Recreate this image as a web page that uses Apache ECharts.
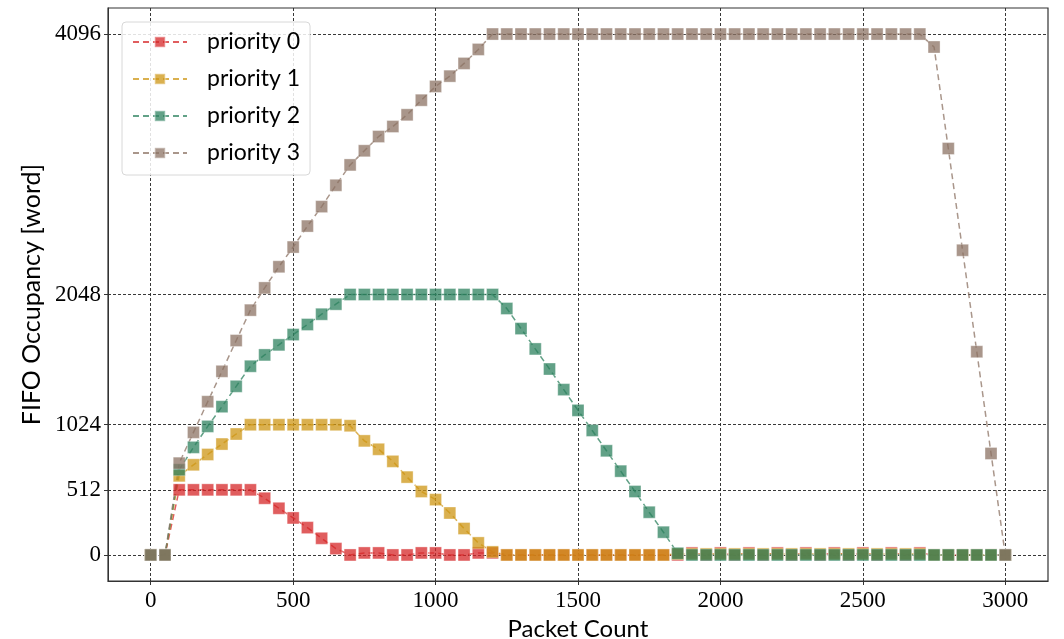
<!DOCTYPE html>
<html>
<head>
<meta charset="utf-8">
<title>FIFO Occupancy</title>
<script src="https://cdn.jsdelivr.net/npm/echarts@6/dist/echarts.min.js"></script>
<style>
    html, body { margin: 0; padding: 0; background: #fff; }
    #main { width: 1064px; height: 639px; }
</style>
</head>
<body>
<div id="main"></div>
<script>
// 横轴：包计数
var packetCount = [0, 50, 100, 150, 200, 250, 300, 350, 400, 450, 500, 550, 600, 650, 700, 750,
    800, 850, 900, 950, 1000, 1050, 1100, 1150, 1200, 1250, 1300, 1350, 1400, 1450, 1500,
    1550, 1600, 1650, 1700, 1750, 1800, 1850, 1900, 1950, 2000, 2050, 2100, 2150, 2200,
    2250, 2300, 2350, 2400, 2450, 2500, 2550, 2600, 2650, 2700, 2750, 2800, 2850, 2900,
    2950, 3000];

var priority0 = [0, 0, 512, 512, 512, 512, 512, 512, 446, 367, 291, 215, 131, 50, 0, 16,
    16, 0, 0, 16, 16, 0, 0, 16, 16, 0, 0, 0, 0, 0, 0,
    0, 0, 0, 0, 0, 0, 0, 16, 0, 16, 0, 16, 0, 16,
    0, 16, 0, 16, 0, 16, 0, 16, 0, 16, 0, 0, 0, 0,
    0, 0];

var priority1 = [0, 0, 622, 709, 790, 872, 951, 1024, 1024, 1024, 1024, 1024, 1024, 1024, 1016, 897,
    831, 736, 612, 499, 435, 330, 208, 95, 24, 0, 0, 0, 0, 0, 0,
    0, 0, 0, 0, 0, 0, 8, 8, 8, 8, 8, 8, 8, 8,
    8, 8, 8, 8, 8, 8, 8, 8, 8, 8, 0, 0, 0, 0,
    0, 0];

var priority2 = [0, 0, 670, 846, 1011, 1166, 1326, 1484, 1573, 1652, 1733, 1812, 1893, 1972, 2048, 2048,
    2048, 2048, 2048, 2048, 2048, 2048, 2048, 2048, 2048, 1938, 1780, 1620, 1462, 1300, 1137,
    979, 819, 659, 499, 336, 179, 13, 0, 0, 0, 0, 0, 0, 0,
    0, 0, 0, 0, 0, 0, 0, 0, 0, 0, 0, 0, 0, 0,
    0, 0];

var priority3 = [0, 0, 722, 964, 1205, 1444, 1686, 1925, 2100, 2266, 2421, 2586, 2739, 2907, 3067, 3178,
    3290, 3369, 3461, 3576, 3684, 3765, 3865, 3975, 4096, 4096, 4096, 4096, 4096, 4096, 4096,
    4096, 4096, 4096, 4096, 4096, 4096, 4096, 4096, 4096, 4096, 4096, 4096, 4096, 4096,
    4096, 4096, 4096, 4096, 4096, 4096, 4096, 4096, 4096, 4096, 3994, 3196, 2396, 1598,
    798, 0];

var seriesNames = ['priority 0', 'priority 1', 'priority 2', 'priority 3'];
var seriesColors = ['#d62728', '#cd9614', '#2d825f', '#8c7364'];

// 刻度
var xTicks = [0, 500, 1000, 1500, 2000, 2500, 3000];
var yTicks = [0, 512, 1024, 2048, 4096];

var myChart = echarts.init(document.getElementById('main'));

function pairs(values) {
    var out = [];
    for (var i = 0; i < packetCount.length; i++) {
        out.push([packetCount[i], values[i]]);
    }
    return out;
}

function makeSeries(name, values, color) {
    return {
        name: name,
        type: 'line',
        data: pairs(values),
        symbol: 'rect',
        symbolSize: 12,
        lineStyle: {
            color: color,
            width: 1.5,
            type: [6, 4],
            opacity: 0.75
        },
        itemStyle: {
            color: color,
            opacity: 0.75,
            borderColor: 'rgba(255,255,255,0.45)',
            borderWidth: 1
        },
        emphasis: {disabled: true}
    };
}

var gridLine = {
    show: true,
    lineStyle: {color: '#222', width: 0.9, type: [3, 2]}
};

// 不要千分位
function plain(v) {
    return String(v);
}

var option = {
    animation: false,
    backgroundColor: '#fff',
    grid: {
        left: 108,
        right: 16,
        top: 8,
        bottom: 58,
        outerBoundsMode: 'none',
        show: true,
        borderColor: '#333',
        borderWidth: 1.2,
        backgroundColor: 'transparent'
    },
    legend: {
        orient: 'vertical',
        left: 122,
        top: 22,
        padding: [7, 10, 9, 10],
        itemWidth: 54,
        itemHeight: 13,
        itemGap: 11,
        backgroundColor: 'rgba(255,255,255,0.85)',
        borderColor: '#d8d8d8',
        borderWidth: 1,
        borderRadius: 4,
        textStyle: {
            fontFamily: 'Lato',
            fontSize: 23,
            color: '#000',
            lineHeight: 26,
            padding: [0, 0, 0, 15]
        },
        data: seriesNames
    },
    xAxis: {
        type: 'value',
        min: -150,
        max: 3150,
        name: 'Packet Count',
        nameLocation: 'middle',
        nameGap: 29,
        nameTextStyle: {fontFamily: 'Lato', fontSize: 24, color: '#000'},
        axisLine: {show: true, onZero: false, lineStyle: {color: '#333'}},
        axisTick: {show: true, length: 4, customValues: xTicks, lineStyle: {color: '#333'}},
        axisLabel: {
            customValues: xTicks,
            formatter: plain,
            margin: 8,
            fontFamily: 'Liberation Serif',
            fontSize: 23,
            color: '#000'
        },
        splitLine: gridLine
    },
    yAxis: {
        type: 'value',
        min: -204.8,
        max: 4300.8,
        name: 'FIFO Occupancy [word]',
        nameLocation: 'middle',
        nameGap: 55,
        nameTextStyle: {fontFamily: 'Lato', fontSize: 25, color: '#000'},
        axisLine: {show: true, onZero: false, lineStyle: {color: '#333'}},
        axisTick: {show: true, length: 4, customValues: yTicks, lineStyle: {color: '#333'}},
        axisLabel: {
            customValues: yTicks,
            formatter: plain,
            margin: 7,
            fontFamily: 'Liberation Serif',
            fontSize: 23,
            color: '#000'
        },
        splitLine: gridLine
    },
    series: [
        makeSeries(seriesNames[0], priority0, seriesColors[0]),
        makeSeries(seriesNames[1], priority1, seriesColors[1]),
        makeSeries(seriesNames[2], priority2, seriesColors[2]),
        makeSeries(seriesNames[3], priority3, seriesColors[3])
    ]
};

myChart.setOption(option);
</script>
</body>
</html>
